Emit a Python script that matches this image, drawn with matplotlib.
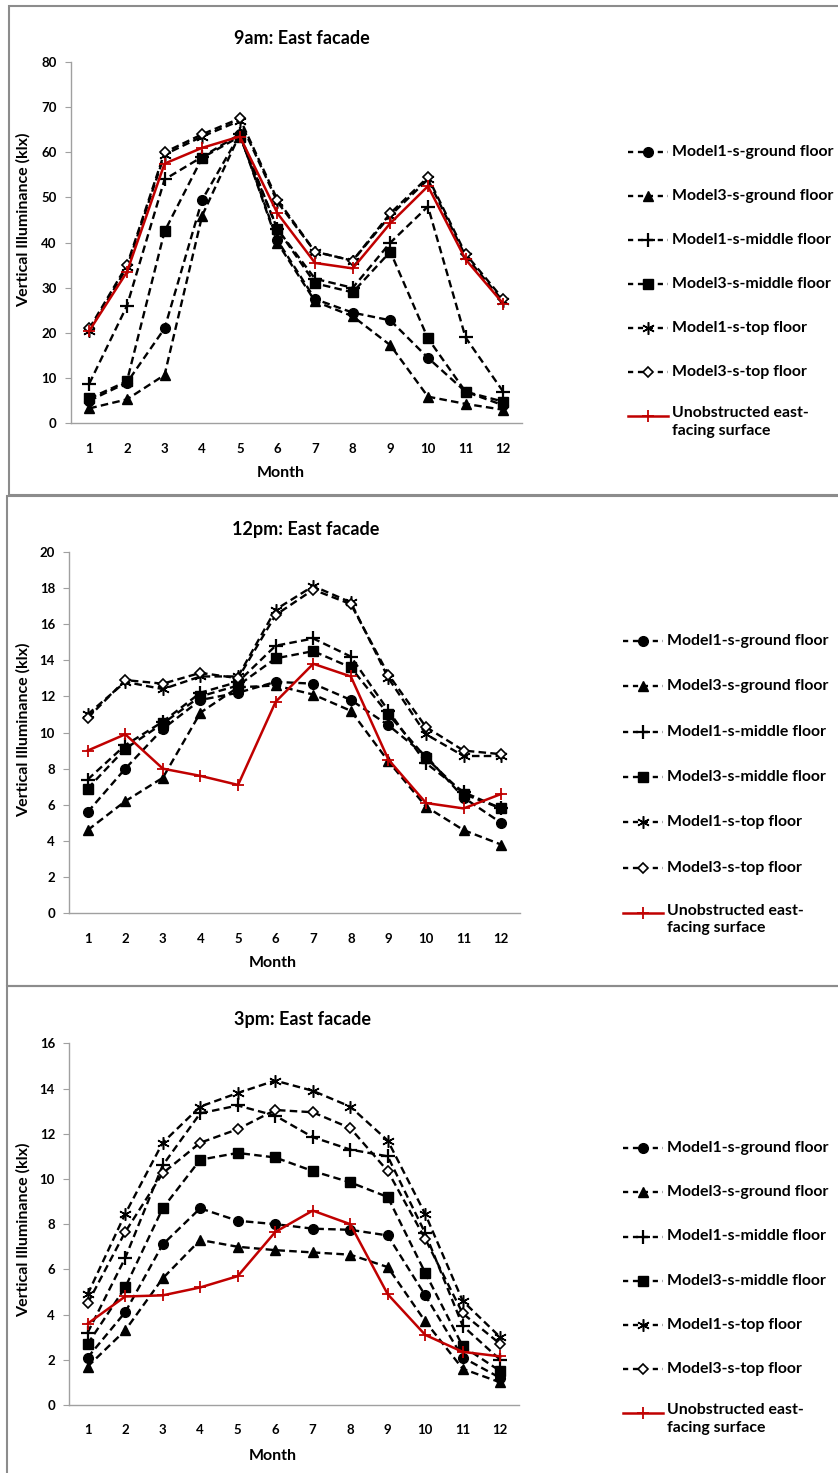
import matplotlib
matplotlib.use("Agg")
import matplotlib.pyplot as plt
from matplotlib.lines import Line2D
from matplotlib.patches import Rectangle

plt.rcParams['font.family'] = ['Lato', 'DejaVu Sans']

months = list(range(1, 13))
month_labels = [str(m) for m in months]

series_names = ["Model1-s-ground floor", "Model3-s-ground floor", "Model1-s-middle floor",
                "Model3-s-middle floor", "Model1-s-top floor", "Model3-s-top floor",
                "Unobstructed east-\nfacing surface"]

# 9am
am9_m1_ground = [5.0, 9.0, 21.0, 49.5, 64.0, 40.5, 27.5, 24.5, 22.8, 14.5, 7.0, 4.0]
am9_m3_ground = [3.3, 5.3, 10.7, 46.0, 64.0, 40.0, 27.0, 23.7, 17.3, 5.9, 4.3, 3.0]
am9_m1_middle = [8.8, 26.0, 54.0, 59.0, 64.0, 43.0, 32.0, 30.0, 40.0, 48.0, 19.0, 7.0]
am9_m3_middle = [5.5, 9.3, 42.5, 58.8, 63.5, 43.0, 31.0, 29.0, 38.0, 18.8, 7.0, 4.8]
am9_m1_top = [20.5, 34.5, 59.5, 63.5, 67.0, 49.0, 38.0, 36.0, 46.0, 54.0, 37.0, 27.0]
am9_m3_top = [21.0, 35.0, 60.0, 64.0, 67.5, 49.5, 38.0, 36.0, 46.5, 54.5, 37.5, 27.5]
am9_unobs = [20.5, 33.5, 57.5, 61.0, 63.5, 46.5, 35.5, 34.3, 44.3, 52.5, 36.3, 26.5]

# 12pm
pm12_m1_ground = [5.6, 8.0, 10.2, 11.8, 12.2, 12.8, 12.7, 11.8, 10.4, 8.7, 6.4, 5.0]
pm12_m3_ground = [4.6, 6.2, 7.5, 11.1, 12.5, 12.6, 12.1, 11.2, 8.4, 5.9, 4.6, 3.8]
pm12_m1_middle = [7.4, 9.3, 10.6, 12.2, 12.8, 14.8, 15.2, 14.2, 11.2, 8.3, 6.7, 5.8]
pm12_m3_middle = [6.9, 9.1, 10.5, 12.0, 12.6, 14.1, 14.5, 13.6, 11.0, 8.6, 6.6, 5.8]
pm12_m1_top = [11.0, 12.8, 12.4, 13.1, 13.1, 16.8, 18.1, 17.2, 13.0, 9.9, 8.7, 8.7]
pm12_m3_top = [10.8, 12.9, 12.7, 13.3, 13.0, 16.5, 17.9, 17.1, 13.2, 10.3, 9.0, 8.8]
pm12_unobs = [9.0, 9.9, 8.0, 7.6, 7.1, 11.7, 13.8, 13.1, 8.5, 6.1, 5.8, 6.6]

# 3pm
pm3_m1_ground = [2.1, 4.1, 7.1, 8.7, 8.15, 8.0, 7.8, 7.75, 7.5, 4.85, 2.1, 1.2]
pm3_m3_ground = [1.7, 3.3, 5.6, 7.3, 7.0, 6.85, 6.75, 6.65, 6.1, 3.7, 1.6, 1.0]
pm3_m1_middle = [3.2, 6.5, 10.6, 12.9, 13.25, 12.8, 11.85, 11.3, 11.0, 7.6, 3.5, 2.0]
pm3_m3_middle = [2.7, 5.2, 8.7, 10.85, 11.15, 10.95, 10.35, 9.85, 9.2, 5.85, 2.6, 1.5]
pm3_m1_top = [4.9, 8.45, 11.6, 13.2, 13.8, 14.35, 13.9, 13.2, 11.7, 8.45, 4.6, 3.0]
pm3_m3_top = [4.5, 7.65, 10.25, 11.6, 12.2, 13.05, 12.95, 12.25, 10.35, 7.35, 4.05, 2.7]
pm3_unobs = [3.6, 4.8, 4.85, 5.2, 5.7, 7.65, 8.6, 8.0, 4.9, 3.1, 2.35, 2.15]

titles = ["9am: East facade", "12pm: East facade", "3pm: East facade"]
yticks_list = [list(range(0, 81, 10)), list(range(0, 21, 2)), list(range(0, 17, 2))]

panels_data = [
    [am9_m1_ground, am9_m3_ground, am9_m1_middle, am9_m3_middle, am9_m1_top, am9_m3_top, am9_unobs],
    [pm12_m1_ground, pm12_m3_ground, pm12_m1_middle, pm12_m3_middle, pm12_m1_top, pm12_m3_top, pm12_unobs],
    [pm3_m1_ground, pm3_m3_ground, pm3_m1_middle, pm3_m3_middle, pm3_m1_top, pm3_m3_top, pm3_unobs],
]

RED = "#C00000"
DASH = (3.2, 1.8)
base = dict(color="black", lw=1.7, dashes=DASH)
styles = [
    dict(base, marker="o", ms=7, mfc="black", mec="black"),
    dict(base, marker="^", ms=7.5, mfc="black", mec="black"),
    dict(base, marker="+", ms=10, mew=1.6, mfc="black", mec="black"),
    dict(base, marker="s", ms=6.5, mfc="black", mec="black"),
    dict(base, marker=(6, 2, 0), ms=9, mew=1.1, mfc="black", mec="black"),
    dict(base, marker="D", ms=5.5, mfc="white", mec="black", mew=1.2),
    dict(color=RED, lw=1.8, ls="-", marker="+", ms=8, mew=1.3, mfc=RED, mec=RED),
]

W, H = 838, 1473
fig = plt.figure(figsize=(W / 100, H / 100), dpi=100)

def fx(px):
    return px / W

def fy(py):
    return 1 - py / H

# panel frames (pixels): (left, top, bottom)
frames = [(8.5, 5.5, 495.0), (6.5, 495.5, 986.0), (6.5, 986.0, 1480.0)]
for (l, t, b) in frames:
    fig.patches.append(Rectangle((fx(l), fy(b)), fx(900 - l), fy(t) - fy(b),
                                 transform=fig.transFigure, fill=False,
                                 ec="#8C8C8C", lw=1.5, zorder=0))

# axes geometry in pixels: (left, right, top, bottom)
axes_px = [(70.5, 522.0, 62.0, 423.3), (68.9, 520.0, 551.7, 913.3), (68.9, 519.0, 1043.3, 1405.0)]
title_y = [39, 529, 1020]
title_x = [302, 306, 302]
month_y = [473, 963, 1456]
month_x = [281, 273, 273]
ylabel_y = [220, 730, 1230]
legend_y0 = [151.7, 640.7, 1148.3]
legend_dy = [44.0, 45.4, 44.1]
legend_x = [628, 623, 623]

for i in range(3):
    l, r, t, b = axes_px[i]
    ax = fig.add_axes([fx(l), fy(b), fx(r - l), fy(t) - fy(b)])
    data = panels_data[i]
    for k in range(7):
        ax.plot(months, data[k], clip_on=False, zorder=3 + (1 if k == 6 else 0), **styles[k])
    ax.set_xlim(0.5, 12.5)
    yt = yticks_list[i]
    ax.set_ylim(yt[0], yt[-1])
    ax.set_yticks(yt)
    ax.set_yticklabels([str(v) for v in yt])
    ax.set_xticks(months)
    ax.set_xticklabels(month_labels)
    for s in ["top", "right"]:
        ax.spines[s].set_visible(False)
    for s in ["left", "bottom"]:
        ax.spines[s].set_color("#A0A0A0")
        ax.spines[s].set_linewidth(1.0)
    ax.tick_params(axis="y", direction="out", length=4, color="#A0A0A0", pad=6)
    ax.tick_params(axis="x", length=0, pad=14)
    for lab in ax.get_xticklabels() + ax.get_yticklabels():
        lab.set_fontweight("bold")
        lab.set_fontsize(9.5)
    ax.patch.set_alpha(0)

    fig.text(fx(title_x[i]), fy(title_y[i]), titles[i], ha="center", va="center",
             fontsize=13, fontweight="bold")
    fig.text(fx(month_x[i]), fy(month_y[i]), "Month", ha="center", va="center",
             fontsize=11.5, fontweight="bold")
    fig.text(fx(23), fy(ylabel_y[i]), "Vertical Illuminance (klx)", ha="center", va="center",
             rotation=90, fontsize=11.5, fontweight="bold")

    # legend
    x0 = legend_x[i]
    for k in range(7):
        yy = legend_y0[i] + k * legend_dy[i]
        st = dict(styles[k])
        if k < 6:
            st["dashes"] = (2.2, 2.0)
        ln = Line2D([fx(x0), fx(x0 + 40)], [fy(yy), fy(yy)], transform=fig.transFigure,
                    markevery=[], **st)
        fig.lines.append(ln)
        mk = dict(styles[k])
        mk["ls"] = "none"
        mk.pop("dashes", None)
        fig.lines.append(Line2D([fx(x0 + 20)], [fy(yy)], transform=fig.transFigure, **mk))
        if k < 6:
            fig.text(fx(x0 + 44), fy(yy), series_names[k], ha="left", va="center",
                     fontsize=11.4, fontweight="bold")
        else:
            fig.text(fx(x0 + 44), fy(yy - 9.5), series_names[k], ha="left", va="top",
                     fontsize=11.4, fontweight="bold", linespacing=1.3)

fig.savefig("out.png", dpi=100)
